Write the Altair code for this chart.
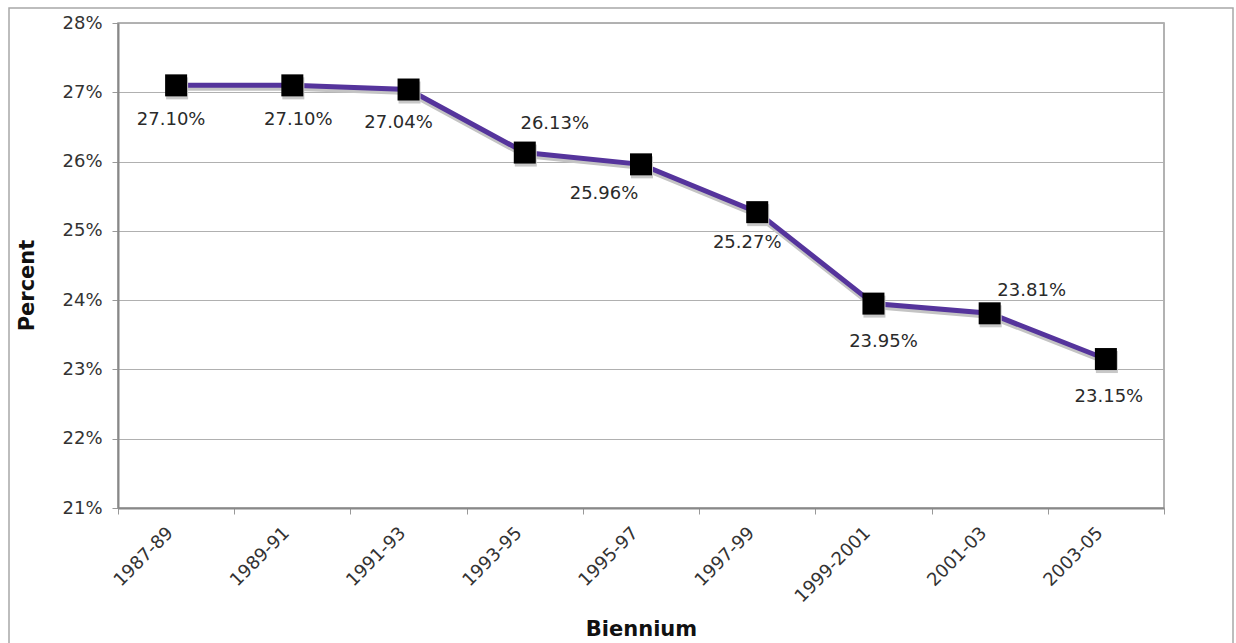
import altair as alt
import pandas as pd

# Share of spending by biennium
biennia = ["1987-89", "1989-91", "1991-93", "1993-95", "1995-97",
           "1997-99", "1999-2001", "2001-03", "2003-05"]
percent = [27.10, 27.10, 27.04, 26.13, 25.96, 25.27, 23.95, 23.81, 23.15]
y_ticks = [21, 22, 23, 24, 25, 26, 27, 28]

# Where each value label sits relative to its marker (pixels)
label_dx = [-5, 6, -10, 30, -37, -10, 10, 42, 3]
label_dy = [35, 35, 33, -29, 30, 31, 38, -22, 38]

df = pd.DataFrame({"biennium": biennia, "percent": percent})

FONT = "DejaVu Sans"
W, H = 1046, 485

x_enc = alt.X(
    "biennium:N",
    sort=biennia,
    bandPosition=0.5,
    scale=alt.Scale(type="band", paddingInner=0, paddingOuter=0),
    axis=alt.Axis(
        title="Biennium",
        titleFont=FONT, titleFontSize=21, titleFontWeight="bold",
        titleColor="#111", titleY=121, titleBaseline="middle",
        labelAngle=-45, labelAlign="right", labelBaseline="middle",
        labelFont=FONT, labelFontSize=18, labelColor="#333",
        labelPadding=16, labelOffset=-6,
        tickBand="extent", tickSize=6, tickColor="#999", tickWidth=1,
        domainColor="#888", domainWidth=2, grid=False,
    ),
)
y_enc = alt.Y(
    "percent:Q",
    scale=alt.Scale(domain=[21, 28], nice=False, zero=False),
    axis=alt.Axis(
        title="Percent",
        titleFont=FONT, titleFontSize=21, titleFontWeight="bold",
        titleColor="#111", titleX=-91, titleY=262, titleBaseline="middle",
        values=y_ticks, labelExpr="datum.value + '%'",
        labelFont=FONT, labelFontSize=18, labelColor="#333",
        labelPadding=10, tickSize=6, tickColor="#999",
        domainColor="#888", domainWidth=2,
        grid=True, gridColor="#b0b0b0", gridWidth=1,
    ),
)

base = alt.Chart(df)

frame = alt.Chart(pd.DataFrame({"k": [0]})).mark_rect(
    filled=False, stroke="#a8a8a8", strokeWidth=1.5, clip=False
).encode(
    x=alt.value(-109), x2=alt.value(1115),
    y=alt.value(-15), y2=alt.value(700),
)

shadow_line = base.mark_line(color="#c4c4c4", strokeWidth=5, yOffset=3).encode(x=x_enc, y=y_enc)
line = base.mark_line(color="#55349c", strokeWidth=5).encode(x=x_enc, y=y_enc)
shadow_pts = base.mark_point(
    shape="square", filled=True, color="#c8c8c8", size=484, opacity=1, xOffset=1, yOffset=3
).encode(x=x_enc, y=y_enc)
points = base.mark_point(
    shape="square", filled=True, color="#000000", size=484, opacity=1
).encode(x=x_enc, y=y_enc)

labels = []
for cat, dx, dy in zip(biennia, label_dx, label_dy):
    labels.append(
        base.transform_filter(alt.datum.biennium == cat)
        .transform_calculate(label="format(datum.percent, '.2f') + '%'")
        .mark_text(font=FONT, fontSize=18, color="#2a2a2a", dx=dx, dy=dy,
                   align="center", baseline="middle")
        .encode(x=x_enc, y=y_enc, text="label:N")
    )

chart = alt.layer(frame, shadow_line, line, shadow_pts, points, *labels).properties(
    width=W, height=H,
    autosize=alt.AutoSizeParams(type="none"),
    padding={"left": 118, "top": 23, "right": 72, "bottom": 135},
    background="white",
).configure_view(stroke="#999", strokeWidth=1.5)

chart.save("out.html", embed_options={"renderer": "svg", "actions": False})
